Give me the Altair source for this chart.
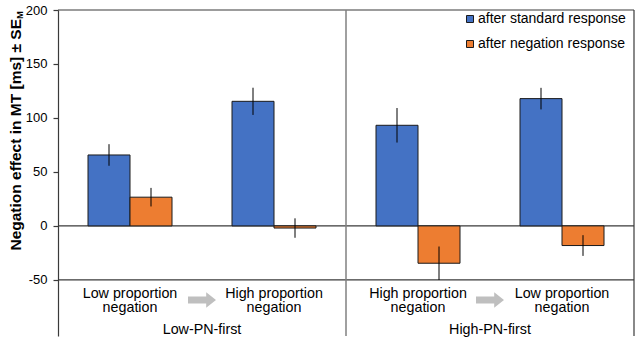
import altair as alt
import pandas as pd

# ---- data ----
groups = ["Low proportion\nnegation", "High proportion\nnegation",
          "High proportion\nnegation", "Low proportion\nnegation"]
sessions = ["Low-PN-first", "High-PN-first"]
series = ["after standard response", "after negation response"]
standard_mean = [65.7, 115.4, 93.2, 117.9]
standard_se = [10.0, 12.6, 16.0, 10.0]
negation_mean = [26.6, -2.0, -34.6, -18.2]
negation_se = [8.6, 9.0, 15.5, 9.6]
y_ticks = [-50, 0, 50, 100, 150, 200]
y_title = "Negation effect in MT [ms] ± SE"
y_title_sub = "M"

FONT = "Liberation Sans"
BLUE = "#4472C4"
ORANGE = "#ED7D31"
LINE = "#3a3a3a"
BW = 42 / 144  # bar width in band units

rows = []
for g in range(len(groups)):
    rows.append({"g": g, "s": 0, "series": series[0], "mean": standard_mean[g], "se": standard_se[g]})
    rows.append({"g": g, "s": 1, "series": series[1], "mean": negation_mean[g], "se": negation_se[g]})
bars_df = pd.DataFrame(rows)
groups_df = pd.DataFrame({"g": list(range(len(groups))), "label": groups})
sess_df = pd.DataFrame({"k": list(range(len(sessions))), "label": sessions})

xs = alt.Scale(domain=[0, 4], nice=False, zero=False)
ys = alt.Scale(domain=[-102, 200], nice=False, zero=False)


def y_axis():
    return alt.Axis(values=y_ticks, title="", grid=False, domainColor=LINE, domainWidth=1.2,
                    tickColor=LINE, tickSize=5, tickWidth=1.2, labelPadding=6,
                    labelExpr="'' + datum.value",
                    labelFont=FONT, labelFontSize=13, labelColor="black")


base = alt.Chart(bars_df).transform_calculate(
    x0=f"datum.g + 0.5 + (datum.s - 1) * {BW}",
    x1=f"datum.g + 0.5 + datum.s * {BW}",
    xc=f"datum.g + 0.5 + (datum.s - 0.5) * {BW}",
    lo="datum.mean - datum.se",
    hi="datum.mean + datum.se",
    zero="0",
)

bars = base.mark_bar(stroke="#1a1a1a", strokeWidth=1).encode(
    x=alt.X("x0:Q", scale=xs, axis=None),
    x2="x1:Q",
    y=alt.Y("mean:Q", scale=ys, axis=y_axis()),
    y2="zero:Q",
    fill=alt.Fill("series:N", scale=alt.Scale(domain=series, range=[BLUE, ORANGE]),
                  legend=alt.Legend(orient="none", legendX=405, legendY=2, title=None,
                                    symbolType="square", symbolSize=49,
                                    symbolStrokeColor="#1a1a1a", symbolStrokeWidth=1,
                                    labelFont=FONT, labelFontSize=14, labelColor="black",
                                    labelOffset=1, rowPadding=11, padding=0)),
)

errs = base.mark_rule(color="black", strokeWidth=1).encode(
    x=alt.X("xc:Q", scale=xs, axis=None),
    y=alt.Y("lo:Q", scale=ys, axis=y_axis()), y2="hi:Q")

# frame lines
hl_df = pd.DataFrame({"yy": [200, 0, -50], "xa": [0, 0, 0], "xb": [4, 4, 4]})
hlines = alt.Chart(hl_df).mark_rule(color=LINE, strokeWidth=1.2).encode(
    y=alt.Y("yy:Q", scale=ys, axis=y_axis()), x=alt.X("xa:Q", scale=xs, axis=None), x2="xb:Q")
vr_df = pd.DataFrame({"xx": [4], "ya": [-102], "yb": [200]})
vright = alt.Chart(vr_df).mark_rule(color=LINE, strokeWidth=1.2).encode(
    x=alt.X("xx:Q", scale=xs, axis=None), y=alt.Y("ya:Q", scale=ys, axis=y_axis()), y2="yb:Q")
vd_df = pd.DataFrame({"xx": [2], "ya": [-102], "yb": [200]})
vdiv = alt.Chart(vd_df).mark_rule(color="#808080", strokeWidth=1.5).encode(
    x=alt.X("xx:Q", scale=xs, axis=None), y=alt.Y("ya:Q", scale=ys, axis=y_axis()), y2="yb:Q")

# category labels
cat = alt.Chart(groups_df).transform_calculate(xc="datum.g + 0.5").mark_text(
    font=FONT, fontSize=14.3, color="black", align="center", baseline="alphabetic",
    lineBreak="\n", lineHeight=14).encode(
    x=alt.X("xc:Q", scale=xs, axis=None), y=alt.value(287.5), text="label:N")

sess = alt.Chart(sess_df).transform_calculate(xc="datum.k * 2 + 1").mark_text(
    font=FONT, fontSize=14.3, color="black", align="center", baseline="alphabetic").encode(
    x=alt.X("xc:Q", scale=xs, axis=None), y=alt.value(324), text="label:N")

ARROW = "M-1,-0.25 L0.3,-0.25 L0.3,-0.55 L1,0 L0.3,0.55 L0.3,0.25 L-1,0.25 Z"
arrows = alt.Chart(sess_df).transform_calculate(xc="datum.k * 2 + 1").mark_point(
    shape=ARROW, filled=True, fill="#BFBFBF", strokeWidth=0, size=784, opacity=1).encode(
    x=alt.X("xc:Q", scale=xs, axis=None), y=alt.value(290))

# y title with subscript
t_df = pd.DataFrame({"t": [y_title], "m": [y_title_sub]})
ytitle = alt.Chart(t_df).mark_text(
    font=FONT, fontSize=15.5, fontWeight="bold", color="black", angle=270,
    align="right", baseline="middle").encode(
    x=alt.value(-42), y=alt.value(9), text="t:N")
ysub = alt.Chart(t_df).mark_text(
    font=FONT, fontSize=9.5, fontWeight="bold", color="black", angle=270,
    align="left", baseline="middle").encode(
    x=alt.value(-38), y=alt.value(9), text="m:N")

chart = alt.layer(hlines, vdiv, vright, bars, errs, cat, sess, arrows, ytitle, ysub).properties(
    width=576, height=326,
    autosize=alt.AutoSizeParams(type="none"),
    padding={"left": 58, "top": 10, "right": 6, "bottom": 5},
).configure_view(strokeWidth=0)

chart.save("out.html", embed_options={"renderer": "svg", "actions": False})
